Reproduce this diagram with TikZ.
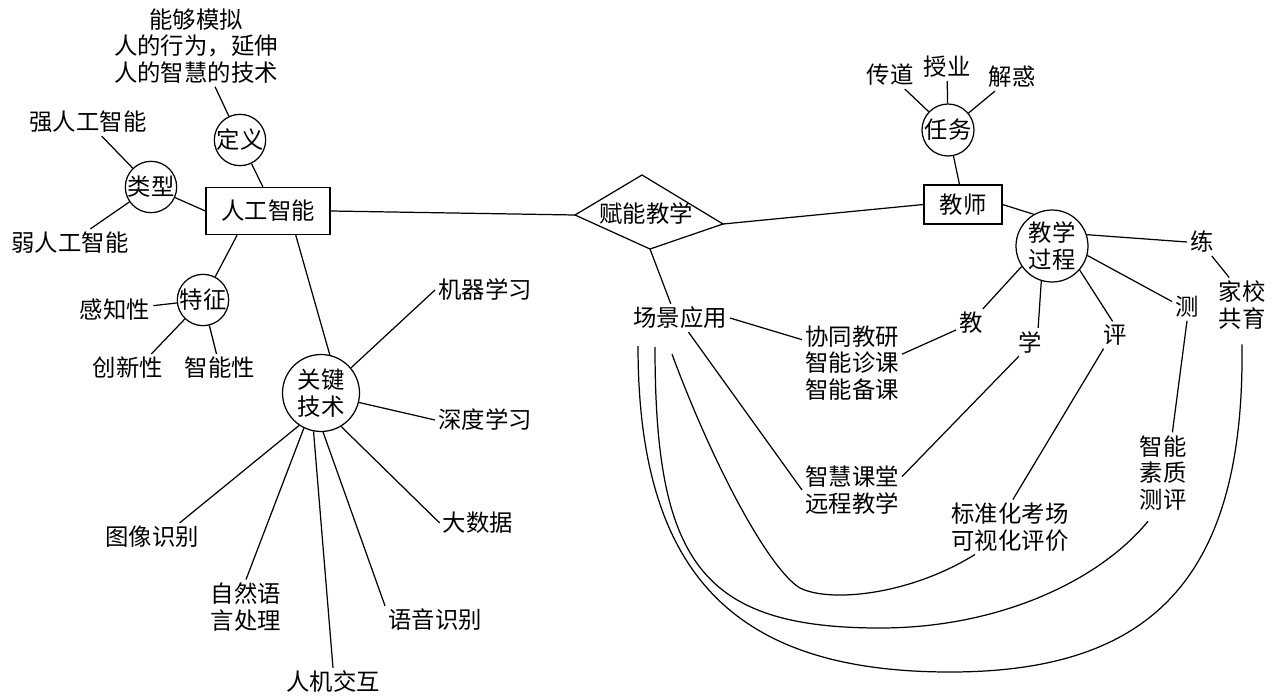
\documentclass[tikz,border=0pt]{standalone}
\usepackage{fontspec}
\newfontfamily\cjk{Noto Sans CJK SC}
\usetikzlibrary{shapes.geometric}
\begin{document}
\begin{tikzpicture}[x=0.02cm,y=-0.02cm,line width=0.7pt,
  every node/.style={font=\cjk\fontsize{13.3}{15.2}\selectfont,inner sep=1.5pt,align=center},
  circ/.style={draw,circle,inner sep=0pt,minimum size=#1},
  boxn/.style={draw,rectangle,inner sep=0pt}]
\useasboundingbox (0,0) rectangle (1275,696);
% left part
\node (defn) at (196,46) {能够模拟\\人的行为，延伸\\人的智慧的技术};
\node[circ=1cm] (dingyi) at (240,140) {定义};
\node[boxn,minimum width=2.48cm,minimum height=0.94cm] (ai) at (268,211) {人工智能};
\node[circ=1cm] (leixing) at (151,187) {类型};
\node (qiang) at (88,122) {强人工智能};
\node (ruo) at (70,243) {弱人工智能};
\node[circ=1cm] (tezheng) at (203,300) {特征};
\node (ganzhi) at (115,310) {感知性};
\node (chuangxin) at (128,368) {创新性};
\node (zhinengxing) at (220,368) {智能性};
\node[circ=1.54cm] (guanjian) at (321,393) {关键\\技术};
\node (jiqi) at (485,290) {机器学习};
\node (shendu) at (485,420) {深度学习};
\node (dashuju) at (478,523) {大数据};
\node (yuyin) at (435,620) {语音识别};
\node (renji) at (333,682) {人机交互};
\node (ziran) at (246,607) {自然语\\言处理};
\node (tuxiang) at (152,537) {图像识别};
% diamond
\coordinate (fL) at (575,215);
\coordinate (fT) at (642,175);
\coordinate (fR) at (723,224);
\coordinate (fB) at (650,249);
\draw (fL) -- (fT) -- (fR) -- (fB) -- cycle;
\node (funeng) at (646,214) {赋能教学};
% right part
\node[boxn,minimum width=1.56cm,minimum height=0.78cm] (jiaoshi) at (963,204.5) {教师};
\node[circ=1.04cm] (renwu) at (948,130) {任务};
\node (chuandao) at (890,75) {传道};
\node (shouye) at (947,67) {授业};
\node (jiehuo) at (1012,77) {解惑};
\node[circ=1.44cm] (guocheng) at (1052,246) {教学\\过程};
\node (lian) at (1202,242) {练};
\node (jiaxiao) at (1242,305) {家校\\共育};
\node (ce) at (1187,307) {测};
\node (ping) at (1115,335) {评};
\node (xue) at (1030,342) {学};
\node (jiao) at (971,323) {教};
\node (changjing) at (680,318) {场景应用};
\node (xietong) at (852,363) {协同教研\\智能诊课\\智能备课};
\node (zhihui) at (852,490) {智慧课堂\\远程教学};
\node (biaozhun) at (1010,527) {标准化考场\\可视化评价};
\node (suzhi) at (1163,473) {智能\\素质\\测评};
% connectors left
\draw (defn) -- (dingyi);
\draw (dingyi) -- (ai.102);
\draw (leixing) -- (qiang);
\draw (leixing) -- (ruo);
\draw (leixing) -- (ai.west);
\draw (ai.218) -- (tezheng);
\draw (tezheng) -- (ganzhi);
\draw (tezheng) -- (chuangxin.31);
\draw (tezheng) -- (zhinengxing);
\draw (ai.-41) -- (guanjian.77);
\draw (guanjian.40) -- (jiqi.west);
\draw (guanjian.-14) -- (shendu.west);
\draw (guanjian.-59) -- (dashuju.west);
\draw (guanjian.-87) -- (yuyin.north west);
\draw (guanjian.-101) -- (renji.north);
\draw (guanjian.-116) -- (ziran.north);
\draw (guanjian.-124) -- (tuxiang.27);
% middle
\draw (ai.east) -- (fL);
\draw (fR) -- (jiaoshi.west);
\draw (fB) -- (changjing.123);
% right
\draw (renwu) -- (jiaoshi.100);
\draw (renwu) -- (chuandao);
\draw (renwu) -- (shouye);
\draw (renwu) -- (jiehuo);
\draw (jiaoshi.east) -- (guocheng.120);
\draw (guocheng.18) -- (lian.west);
\draw (lian.-55) -- (jiaxiao.115);
\draw (guocheng.-15) -- (ce.160);
\draw (guocheng.-41) -- (ping.100);
\draw (guocheng.-107) -- (xue.60);
\draw (guocheng.-146) -- (jiao.50);
\draw (jiao.205) -- (xietong.10);
\draw (changjing.east) -- (xietong.155);
\draw (changjing.-59) -- (zhihui.west);
\draw (xue.-128) -- (zhihui.15);
\draw (ping.-130) -- (biaozhun.84);
\draw (ce.south) -- (suzhi.77);
% curves
\draw ([xshift=-0.16cm,yshift=-0.44cm]changjing.south) .. controls (715,470) and (770,570) .. (800,588)
      .. controls (830,603) and (910,595) .. ([xshift=-0.7cm]biaozhun.south);
\draw ([xshift=-0.5cm,yshift=-0.3cm]changjing.south) .. controls (655,560) and (700,628) .. (880,628)
      .. controls (1000,628) and (1100,580) .. ([xshift=-0.3cm,yshift=-0.15cm]suzhi.south);
\draw ([xshift=-0.84cm,yshift=-0.28cm]changjing.south) .. controls (638,580) and (740,672) .. (950,672)
      .. controls (1150,672) and (1245,580) .. ([yshift=-0.24cm]jiaxiao.south);
\end{tikzpicture}
\end{document}
